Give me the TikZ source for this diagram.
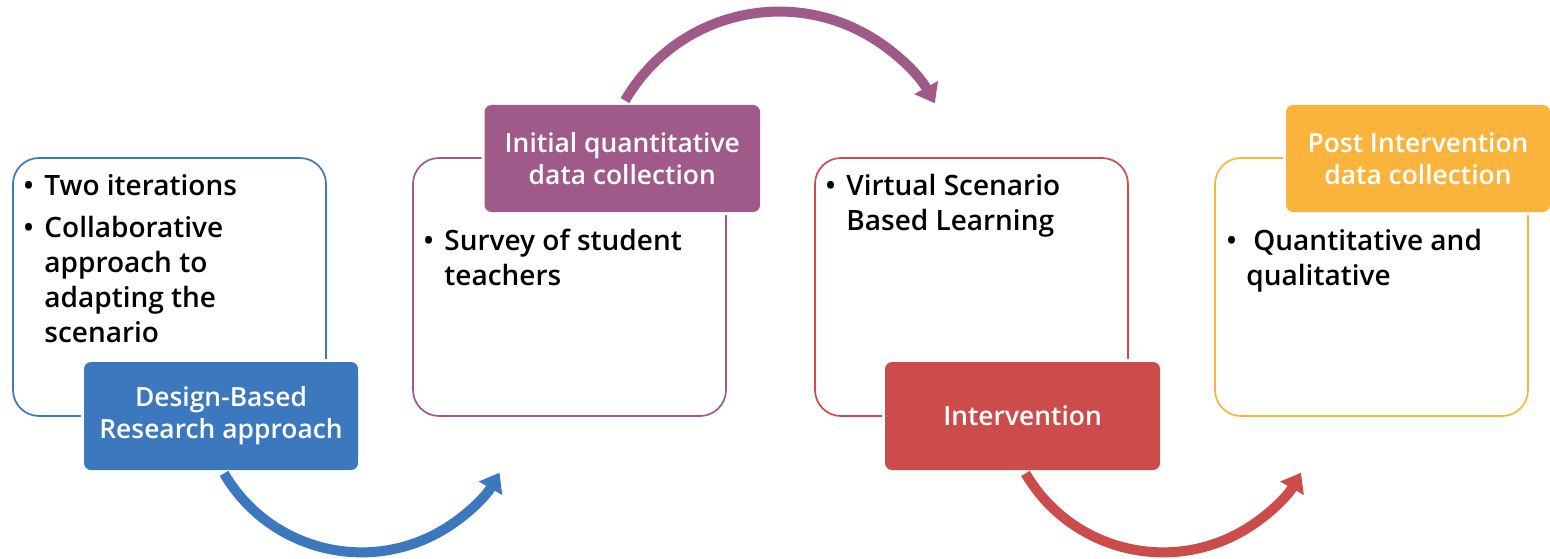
\documentclass[tikz,border=0pt]{standalone}
\usepackage{fontspec}
\IfFontExistsTF{Open Sans SemiBold}
  {\setmainfont{Open Sans}[BoldFont={Open Sans SemiBold}]\newfontfamily\lblfont{Open Sans SemiBold}}
  {\IfFontExistsTF{Open Sans Semibold}
    {\setmainfont{Open Sans}[BoldFont={Open Sans Semibold}]\newfontfamily\lblfont{Open Sans Semibold}}
    {\setmainfont{Open Sans}\newfontfamily\lblfont{Open Sans}[FakeBold=1.2]}}
\usetikzlibrary{arrows.meta}
\definecolor{cblue}{HTML}{3C78BE}
\definecolor{cpurple}{HTML}{A05A89}
\definecolor{cred}{HTML}{CB4C4B}
\definecolor{corange}{HTML}{FAB43C}
\tikzset{
  outer/.style={draw=#1, line width=0.85pt, rounded corners=13pt, minimum width=156.5pt, minimum height=129pt, inner sep=0pt},
  lbl/.style={fill=#1, rounded corners=3.5pt, text=white, align=center, inner sep=0pt,
    font=\lblfont\fontsize{13.2}{16}\selectfont, preaction={draw=white, line width=3pt}},
  body/.style={anchor=base west, inner sep=0pt, font=\bfseries\fontsize{14}{17.5}\selectfont},
  arr/.style={line width=5pt, -{Triangle[width=13pt,length=9pt]}}
}
\begin{document}
\begin{tikzpicture}[x=0.5pt,y=0.5pt]
\useasboundingbox (0,0) rectangle (1550,558);
% outline boxes
\node[outer=cblue] (b1) at (169.5,271) {};
\node[outer=cpurple] (b2) at (569.5,271) {};
\node[outer=cred] (b3) at (971.5,271) {};
\node[outer=corange] (b4) at (1371.5,271) {};
% labels
\node[lbl=cblue, minimum width=137pt, minimum height=54pt] (l1) at (221,142) {Design-Based\\Research approach};
\node[lbl=cpurple, minimum width=137.75pt, minimum height=53.5pt] (l2) at (622.3,399.5) {Initial quantitative\\data collection};
\node[lbl=cred, minimum width=137.5pt, minimum height=54pt] (l3) at (1022.5,142) {Intervention};
\node[lbl=corange, minimum width=132pt, minimum height=53.5pt] (l4) at (1418,399.5) {Post Intervention\\data collection};
% arrows
\draw[arr, cblue] ([shift={(3,-3)}]l1.south) arc[start angle=210.3, end angle=330, radius=79.65pt];
\draw[arr, cpurple] ([shift={(2.7,4)}]l2.north) arc[start angle=150, end angle=29, radius=89pt];
\draw[arr, cred] ([shift={(3,-3)}]l3.south) arc[start angle=210.3, end angle=330, radius=79.65pt];
% box 1 text
\node[body] (t1a) at (23,363) {•};
\node[body] (t1b) at (44,363) {Two iterations};
\node[body] (t1c) at (23,321) {•};
\node[body] (t1d) at (44,321) {Collaborative};
\node[body] (t1e) at (44,286) {approach to};
\node[body] (t1f) at (44,251) {adapting the};
\node[body] (t1g) at (44,216) {scenario};
% box 2 text
\node[body] (t2a) at (423,308) {•};
\node[body] (t2b) at (444,308) {Survey of student};
\node[body] (t2c) at (444,273) {teachers};
% box 3 text
\node[body] (t3a) at (825,363) {•};
\node[body] (t3b) at (846,363) {Virtual Scenario};
\node[body] (t3c) at (846,328) {Based Learning};
% box 4 text
\node[body] (t4a) at (1226,308) {•};
\node[body] (t4b) at (1253,308) {Quantitative and};
\node[body] (t4c) at (1246,273) {qualitative};
\end{tikzpicture}
\end{document}
